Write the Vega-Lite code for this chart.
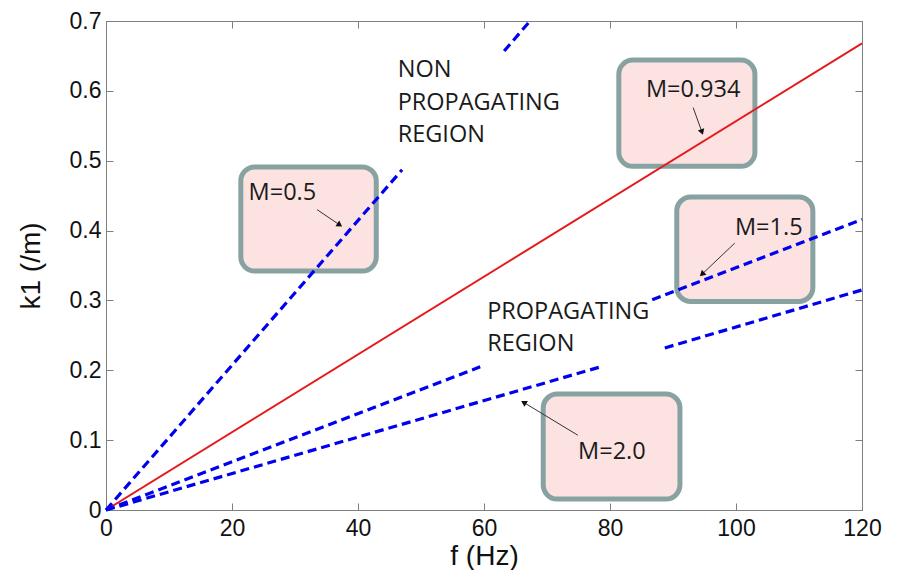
{
  "$schema": "https://vega.github.io/schema/vega-lite/v6.json",
  "width": 756,
  "height": 489,
  "autosize": "none",
  "padding": {"left": 106, "top": 21, "right": 37, "bottom": 60},
  "background": "white",
  "config": {
    "view": {"stroke": "#7f7f7f", "strokeWidth": 1},
    "axis": {
      "grid": false,
      "domainColor": "#7f7f7f",
      "tickColor": "#7f7f7f",
      "tickSize": -7,
      "labelFont": "Liberation Sans",
      "labelFontSize": 23,
      "labelColor": "#111111",
      "titleFont": "Liberation Sans",
      "titleFontSize": 28,
      "titleFontWeight": "normal",
      "titleColor": "#111111"
    }
  },
  "datasets": {
    "lines": [
      {"M": "0.934", "seg": "r", "f": 0, "k": 0},
      {"M": "0.934", "seg": "r", "f": 120, "k": 0.668},
      {"M": "0.5", "seg": "0.5a", "f": 0, "k": 0},
      {"M": "0.5", "seg": "0.5a", "f": 47, "k": 0.487},
      {"M": "0.5", "seg": "0.5b", "f": 63.2, "k": 0.657},
      {"M": "0.5", "seg": "0.5b", "f": 67.3, "k": 0.7},
      {"M": "1.5", "seg": "1.5a", "f": 0, "k": 0},
      {"M": "1.5", "seg": "1.5a", "f": 59.4, "k": 0.205},
      {"M": "1.5", "seg": "1.5b", "f": 86.7, "k": 0.301},
      {"M": "1.5", "seg": "1.5b", "f": 120, "k": 0.416},
      {"M": "2.0", "seg": "2.0a", "f": 0, "k": 0},
      {"M": "2.0", "seg": "2.0a", "f": 78.9, "k": 0.206},
      {"M": "2.0", "seg": "2.0b", "f": 88.7, "k": 0.232},
      {"M": "2.0", "seg": "2.0b", "f": 120, "k": 0.315}
    ],
    "boxes": [
      {"label": "M=0.5", "f1": 21.4, "f2": 42.9, "k1": 0.342, "k2": 0.491},
      {"label": "M=0.934", "f1": 81.4, "f2": 103.0, "k1": 0.492, "k2": 0.644},
      {"label": "M=1.5", "f1": 90.6, "f2": 112.2, "k1": 0.2985, "k2": 0.448},
      {"label": "M=2.0", "f1": 69.4, "f2": 91.1, "k1": 0.0157, "k2": 0.166}
    ],
    "arrows": [
      {"label": "M=0.5", "f": 33.5, "k": 0.430, "fe": 37.1, "ke": 0.408},
      {"label": "M=0.934", "f": 93.2, "k": 0.576, "fe": 94.6, "ke": 0.541},
      {"label": "M=1.5", "f": 99.8, "k": 0.382, "fe": 94.6, "ke": 0.3375},
      {"label": "M=2.0", "f": 74.9, "k": 0.107, "fe": 66.3, "ke": 0.154}
    ],
    "labels": [
      {"text": "M=0.5", "f": 28.0, "k": 0.4538, "align": "center"},
      {"text": "M=0.934", "f": 93.2, "k": 0.601, "align": "center"},
      {"text": "M=1.5", "f": 105.2, "k": 0.4037, "align": "center"},
      {"text": "M=2.0", "f": 80.3, "k": 0.083, "align": "center"},
      {"text": "NON", "f": 46.3, "k": 0.630, "align": "left"},
      {"text": "PROPAGATING", "f": 46.3, "k": 0.583, "align": "left"},
      {"text": "REGION", "f": 46.3, "k": 0.537, "align": "left"},
      {"text": "PROPAGATING", "f": 60.5, "k": 0.283, "align": "left"},
      {"text": "REGION", "f": 60.5, "k": 0.238, "align": "left"}
    ]
  },
  "resolve": {"scale": {"x": "shared", "y": "shared"}, "axis": {"x": "independent", "y": "independent"}},
  "layer": [
    {
      "data": {"name": "boxes"},
      "mark": {"type": "rect", "fill": "#fde2e2", "stroke": "#88a2a2", "strokeWidth": 5, "cornerRadius": 14},
      "encoding": {
        "x": {"field": "f1", "type": "quantitative", "scale": {"domain": [0, 120], "nice": false, "zero": false},
              "axis": {"orient": "bottom", "title": "f (Hz)", "values": [0, 20, 40, 60, 80, 100, 120], "labelPadding": 14, "titlePadding": 2, "labelFlush": false}},
        "x2": {"field": "f2"},
        "y": {"field": "k1", "type": "quantitative", "scale": {"domain": [0, 0.7], "nice": false, "zero": false},
              "axis": {"orient": "left", "title": "k1 (/m)", "values": [0, 0.1, 0.2, 0.3, 0.4, 0.5, 0.6, 0.7], "format": "~g", "labelPadding": 12, "titlePadding": 24, "labelFlush": false}},
        "y2": {"field": "k2"}
      }
    },
    {
      "data": {"name": "lines"},
      "transform": [{"filter": "datum.M == '0.934'"}],
      "mark": {"type": "line", "color": "#e41a1c", "strokeWidth": 2},
      "encoding": {
        "x": {"field": "f", "type": "quantitative", "axis": {"orient": "top", "title": null, "labels": false, "values": [0, 20, 40, 60, 80, 100, 120]}},
        "y": {"field": "k", "type": "quantitative", "axis": {"orient": "right", "title": null, "labels": false, "values": [0, 0.1, 0.2, 0.3, 0.4, 0.5, 0.6, 0.7]}},
        "detail": {"field": "seg"}
      }
    },
    {
      "data": {"name": "lines"},
      "transform": [{"filter": "datum.M != '0.934'"}],
      "mark": {"type": "line", "color": "#0000ee", "strokeWidth": 3.2, "strokeDash": [9, 5]},
      "encoding": {
        "x": {"field": "f", "type": "quantitative", "axis": null},
        "y": {"field": "k", "type": "quantitative", "axis": null},
        "detail": {"field": "seg"}
      }
    },
    {
      "data": {"name": "arrows"},
      "mark": {"type": "rule", "color": "#333333", "strokeWidth": 1},
      "encoding": {
        "x": {"field": "f", "type": "quantitative", "axis": null},
        "y": {"field": "k", "type": "quantitative", "axis": null},
        "x2": {"field": "fe"},
        "y2": {"field": "ke"}
      }
    },
    {
      "data": {"name": "arrows"},
      "transform": [{"filter": "datum.label == 'M=0.5'"}],
      "mark": {"type": "point", "shape": "triangle-up", "filled": true, "color": "#111111", "size": 45, "angle": 124, "opacity": 1},
      "encoding": {
        "x": {"field": "fe", "type": "quantitative", "axis": null},
        "y": {"field": "ke", "type": "quantitative", "axis": null}
      }
    },
    {
      "data": {"name": "arrows"},
      "transform": [{"filter": "datum.label == 'M=0.934'"}],
      "mark": {"type": "point", "shape": "triangle-up", "filled": true, "color": "#111111", "size": 45, "angle": 161, "opacity": 1},
      "encoding": {
        "x": {"field": "fe", "type": "quantitative", "axis": null},
        "y": {"field": "ke", "type": "quantitative", "axis": null}
      }
    },
    {
      "data": {"name": "arrows"},
      "transform": [{"filter": "datum.label == 'M=1.5'"}],
      "mark": {"type": "point", "shape": "triangle-up", "filled": true, "color": "#111111", "size": 45, "angle": 227, "opacity": 1},
      "encoding": {
        "x": {"field": "fe", "type": "quantitative", "axis": null},
        "y": {"field": "ke", "type": "quantitative", "axis": null}
      }
    },
    {
      "data": {"name": "arrows"},
      "transform": [{"filter": "datum.label == 'M=2.0'"}],
      "mark": {"type": "point", "shape": "triangle-up", "filled": true, "color": "#111111", "size": 45, "angle": 301, "opacity": 1},
      "encoding": {
        "x": {"field": "fe", "type": "quantitative", "axis": null},
        "y": {"field": "ke", "type": "quantitative", "axis": null}
      }
    },
    {
      "data": {"name": "labels"},
      "transform": [{"filter": "datum.align == 'center'"}],
      "mark": {"type": "text", "font": "Open Sans", "fontSize": 23.5, "color": "#1a1a1a", "align": "center", "baseline": "middle"},
      "encoding": {
        "x": {"field": "f", "type": "quantitative", "axis": null},
        "y": {"field": "k", "type": "quantitative", "axis": null},
        "text": {"field": "text"}
      }
    },
    {
      "data": {"name": "labels"},
      "transform": [{"filter": "datum.align == 'left'"}],
      "mark": {"type": "text", "font": "Open Sans", "fontSize": 23.5, "color": "#1a1a1a", "align": "left", "baseline": "middle"},
      "encoding": {
        "x": {"field": "f", "type": "quantitative", "axis": null},
        "y": {"field": "k", "type": "quantitative", "axis": null},
        "text": {"field": "text"}
      }
    }
  ]
}
